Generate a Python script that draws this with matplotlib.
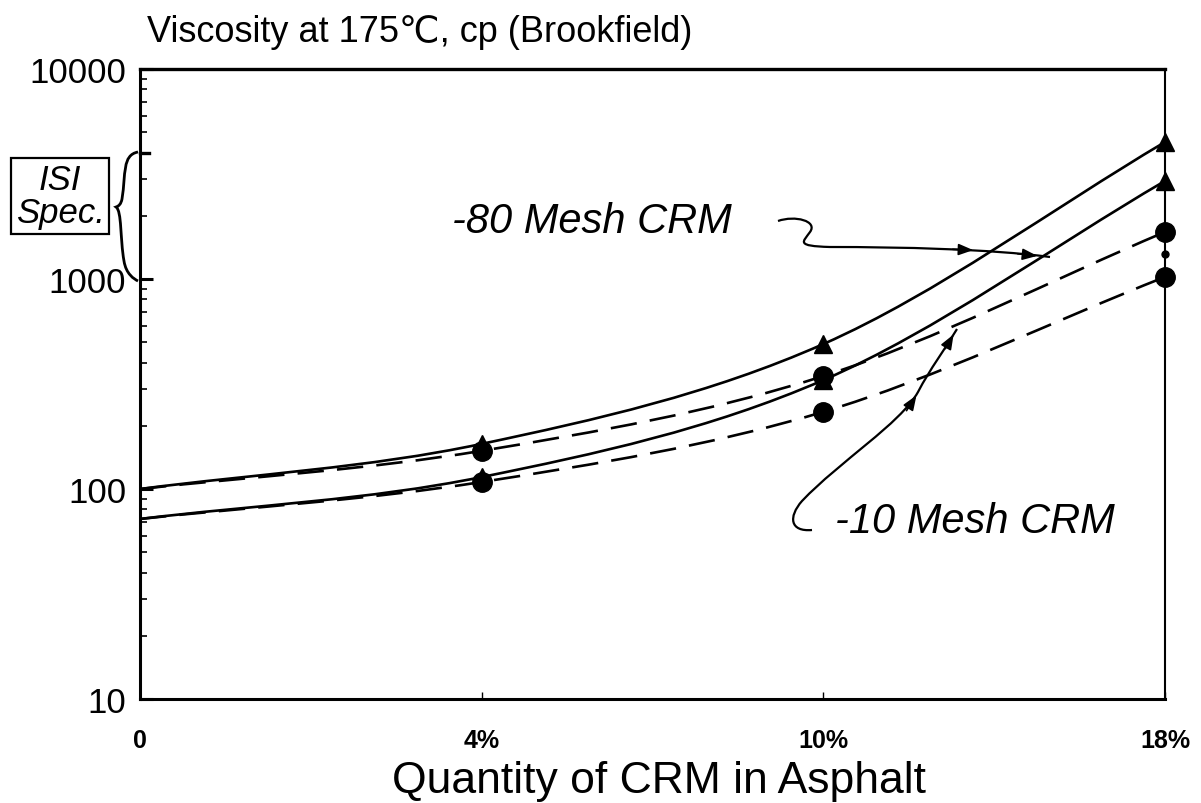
import numpy as np
import matplotlib
matplotlib.use("Agg")
import matplotlib.pyplot as plt
from matplotlib.path import Path
from matplotlib.patches import PathPatch, FancyArrowPatch
from matplotlib.ticker import FixedLocator, NullFormatter

plt.rcParams['font.family'] = ['Liberation Sans', 'DejaVu Sans']

# ---- data ----
crm_labels = ['0', '4%', '10%', '18%']
mesh80_a = [100, 164, 490, 4490]   # solid, upper (triangles)
mesh80_b = [72, 114, 330, 2930]    # solid, lower (triangles)
mesh10_a = [100, 152, 345, 1675]   # dashed, upper (circles)
mesh10_b = [72, 108, 233, 1023]    # dashed, lower (circles)
speck_x = [3]
speck_y = [1320]
isi_spec = [1000, 4000]

W, H = 1201, 804
fig = plt.figure(figsize=(W / 100, H / 100), dpi=100)
ax = fig.add_axes([140 / W, 1 - 700 / H, (1165 - 140) / W, (700 - 70) / H])
ax.set_yscale('log')
ax.set_xlim(0, len(crm_labels) - 1)
ax.set_ylim(10, 10000)

xs = np.arange(len(crm_labels))


def smooth_path(x, y):
    """Catmull-Rom style Bezier path in (x, log10 y) space."""
    p = np.column_stack([np.asarray(x, float), np.log10(np.asarray(y, float))])
    n = len(p)
    t = np.zeros_like(p)
    for i in range(n):
        if i == 0:
            t[i] = p[1] - p[0]
        elif i == n - 1:
            t[i] = p[-1] - p[-2]
        else:
            t[i] = (p[i + 1] - p[i - 1]) / 2
    verts = [p[0]]
    codes = [Path.MOVETO]
    for i in range(n - 1):
        verts += [p[i] + t[i] / 3, p[i + 1] - t[i + 1] / 3, p[i + 1]]
        codes += [Path.CURVE4] * 3
    verts = np.array(verts)
    verts[:, 1] = 10 ** verts[:, 1]
    return Path(verts, codes)


lw = 1.9
for ys in (mesh80_a, mesh80_b):
    ax.add_patch(PathPatch(smooth_path(xs, ys), fill=False, lw=lw, color='black',
                           capstyle='butt', zorder=3))
for ys in (mesh10_a, mesh10_b):
    ax.add_patch(PathPatch(smooth_path(xs, ys), fill=False, lw=lw, color='black',
                           linestyle=(0, (10, 5)), capstyle='butt', zorder=3))

ax.plot(xs[1:], mesh80_a[1:], '^', color='black', ms=13, zorder=4, clip_on=False)
ax.plot(xs[1:], mesh80_b[1:], '^', color='black', ms=13, zorder=4, clip_on=False)
ax.plot(xs[1:], mesh10_a[1:], 'o', color='black', ms=14, zorder=5, clip_on=False)
ax.plot(xs[1:], mesh10_b[1:], 'o', color='black', ms=14, zorder=5, clip_on=False)
ax.plot(speck_x, speck_y, 'o', color='black', ms=5, zorder=5, clip_on=False)

# ---- axes styling ----
for s in ['left', 'bottom']:
    ax.spines[s].set_linewidth(2.2)
ax.spines['top'].set_linewidth(2.4)
ax.spines['right'].set_linewidth(1.5)

ax.set_xticks(xs)
ax.set_xticklabels(crm_labels, fontsize=18, fontweight='bold')
ax.tick_params(axis='x', direction='in', length=5, width=1, pad=21)

major = [10, 100, 1000, 10000]
ax.yaxis.set_major_locator(FixedLocator(major))
ax.set_yticklabels(['10', '100', '1000', '10000'], fontsize=25)
minor = [m * d for d in (10, 100, 1000) for m in range(2, 10)]
ax.yaxis.set_minor_locator(FixedLocator(minor))
ax.yaxis.set_minor_formatter(NullFormatter())
ax.tick_params(axis='y', which='major', direction='in', length=9, width=2.2, pad=10)
ax.tick_params(axis='y', which='minor', direction='in', length=5, width=1.2)
ax.tick_params(axis='y', which='both', right=False)
ax.tick_params(axis='x', which='both', top=False)
# ISI spec upper boundary tick
ax.plot([0, 0.009], [isi_spec[1], isi_spec[1]], color='black', lw=2.4,
        transform=ax.get_yaxis_transform(), clip_on=False)

# ---- titles ----
fig.text(147 / W, 1 - 33 / H, 'Viscosity at 175\u2103, cp (Brookfield)', fontsize=26,
         ha='left', va='center')
fig.text(659 / W, 1 - 782 / H, 'Quantity of CRM in Asphalt', fontsize=32,
         ha='center', va='center')


def F(x, y):
    return (x / W, 1 - y / H)


# ---- annotations ----
fig.text(*F(592, 222), '-80 Mesh CRM', fontsize=30, style='italic', ha='center', va='center')
fig.text(*F(975, 522), '-10 Mesh CRM', fontsize=30, style='italic', ha='center', va='center')

# ISI Spec. box
fig.text(*F(60, 197), 'ISI\nSpec.', fontsize=25, style='italic', ha='center', va='center',
         linespacing=1.0,
         bbox=dict(boxstyle='square,pad=0.14', fc='white', ec='black', lw=1.6))

# brace
bverts = [F(138, 153), F(122, 156), F(126, 175), F(122, 200),
          F(121, 205), F(119, 207), F(116, 208),
          F(122, 212), F(120, 240), F(124, 262),
          F(126, 275), F(134, 280), F(138, 282)]
bcodes = [Path.MOVETO] + [Path.CURVE4] * 12
fig.add_artist(PathPatch(Path(bverts, bcodes), fill=False, lw=2.0, color='black',
                         transform=fig.transFigure))

# -80 squiggle
v80 = [F(778, 222), F(795, 216), F(818, 222), F(810, 233),
       F(803, 243), F(795, 247), F(830, 248),
       F(900, 248), F(990, 250), F(1050, 258)]
c80 = [Path.MOVETO] + [Path.CURVE4] * 9
fig.add_artist(PathPatch(Path(v80, c80), fill=False, lw=1.6, color='black',
                         transform=fig.transFigure))
for (x0, y0, x1, y1) in [(950, 250.2, 976, 251.2), (1015, 254.5, 1040, 257.2)]:
    fig.add_artist(FancyArrowPatch(F(x0, y0), F(x1, y1), transform=fig.transFigure,
                                   arrowstyle='-|>,head_length=9,head_width=3.5',
                                   color='black', lw=1.2, mutation_scale=1))

# -10 hook
v10 = [F(812, 531), F(790, 533), F(788, 518), F(802, 502),
       F(840, 462), F(900, 425), F(918, 393),
       F(930, 370), F(945, 350), F(957, 330)]
c10 = [Path.MOVETO] + [Path.CURVE4] * 9
fig.add_artist(PathPatch(Path(v10, c10), fill=False, lw=1.6, color='black',
                         transform=fig.transFigure))
for (x0, y0, x1, y1) in [(905, 414, 918, 394), (944, 352, 955, 333)]:
    fig.add_artist(FancyArrowPatch(F(x0, y0), F(x1, y1), transform=fig.transFigure,
                                   arrowstyle='-|>,head_length=9,head_width=3.5',
                                   color='black', lw=1.2, mutation_scale=1))

fig.savefig('out.png', dpi=100)
